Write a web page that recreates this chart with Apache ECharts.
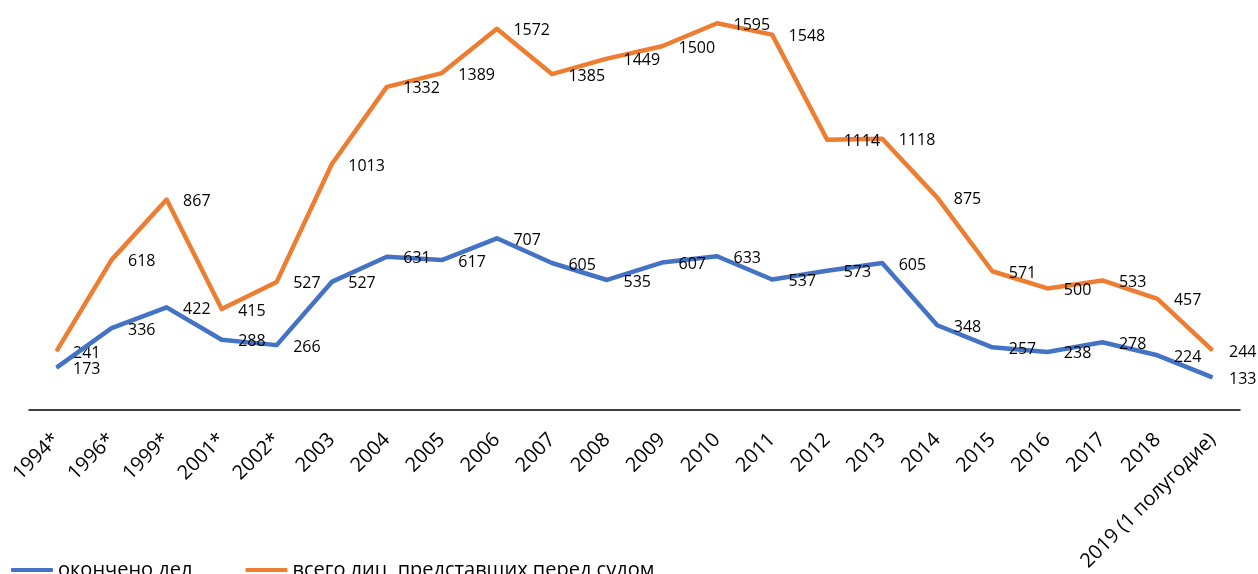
<!DOCTYPE html>
<html>
<head>
<meta charset="utf-8">
<script src="https://cdn.jsdelivr.net/npm/echarts@6/dist/echarts.min.js"></script>
<style>
  html, body { margin: 0; padding: 0; background: #fff; }
  #chart { width: 1258px; height: 574px; }
</style>
</head>
<body>
<div id="chart"></div>
<script>
// годы
var years = ['1994*', '1996*', '1999*', '2001*', '2002*', '2003', '2004', '2005', '2006', '2007', '2008',
  '2009', '2010', '2011', '2012', '2013', '2014', '2015', '2016', '2017', '2018', '2019 (1 полугодие)'];
// окончено дел
var casesDone = [173, 336, 422, 288, 266, 527, 631, 617, 707, 605, 535, 607, 633, 537, 573, 605, 348, 257, 238, 278, 224, 133];
// всего лиц, представших перед судом
var personsTotal = [241, 618, 867, 415, 527, 1013, 1332, 1389, 1572, 1385, 1449, 1500, 1595, 1548, 1114, 1118, 875, 571, 500, 533, 457, 244];

var font = '"Open Sans", "Noto Sans", sans-serif';
var chart = echarts.init(document.getElementById('chart'));

function lineSeries(name, data, color) {
  return {
    name: name,
    type: 'line',
    data: data,
    symbol: 'circle',
    symbolSize: 1,
    showSymbol: true,
    lineStyle: { width: 4.5, color: color, join: 'round' },
    itemStyle: { color: color },
    label: {
      show: true,
      position: 'right',
      distance: 16,
      offset: [0, 2],
      color: '#000',
      fontSize: 16,
      fontFamily: font
    },
    z: name === 'окончено дел' ? 3 : 2
  };
}

var option = {
  animation: false,
  backgroundColor: '#fff',
  grid: { left: 29, right: 18, top: 22, bottom: 164 },
  legend: {
    left: 6,
    top: 555,
    itemWidth: 42,
    itemHeight: 4,
    itemGap: 53,
    icon: 'roundRect',
    textStyle: { fontSize: 20, color: '#000', fontFamily: font },
    data: ['окончено дел', 'всего лиц, представших перед судом']
  },
  xAxis: {
    type: 'category',
    data: years,
    boundaryGap: true,
    axisLine: { lineStyle: { color: '#000', width: 1.5 } },
    axisTick: { show: false },
    axisLabel: {
      rotate: 45,
      interval: 0,
      margin: 27,
      fontSize: 20,
      color: '#000',
      fontFamily: font
    }
  },
  yAxis: {
    type: 'value',
    min: 0,
    max: 1600,
    show: false,
    splitLine: { show: false }
  },
  series: [
    lineSeries('окончено дел', casesDone, '#4472C4'),
    lineSeries('всего лиц, представших перед судом', personsTotal, '#ED7D31')
  ]
};

chart.setOption(option);
</script>
</body>
</html>
